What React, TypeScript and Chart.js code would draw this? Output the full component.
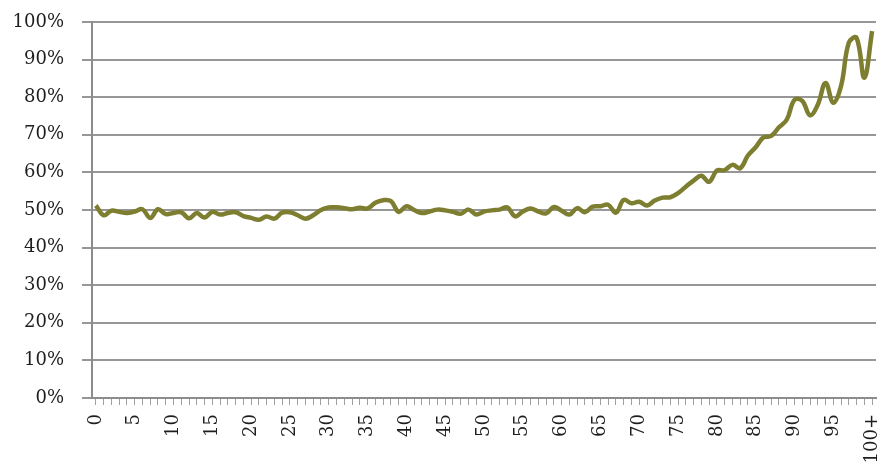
import React, { useEffect, useRef } from "react";
import { Chart, registerables } from "chart.js";

Chart.register(...registerables);

const categories: string[] = [];
for (let a = 0; a < 100; a++) categories.push(String(a));
categories.push("100+");

const shareValues: number[] = [
  51.2, 48.6, 49.8, 49.5, 49.2, 49.6, 50.2, 47.9, 50.2, 48.9,
  49.2, 49.4, 47.8, 49.2, 48.0, 49.5, 48.8, 49.2, 49.4, 48.4,
  47.9, 47.4, 48.3, 47.7, 49.3, 49.4, 48.6, 47.7, 48.6, 50.0,
  50.7, 50.7, 50.5, 50.2, 50.6, 50.4, 51.9, 52.6, 52.4, 49.5,
  51.0, 50.0, 49.2, 49.6, 50.1, 49.9, 49.5, 49.0, 50.1, 48.8,
  49.6, 49.9, 50.1, 50.7, 48.3, 49.6, 50.4, 49.6, 49.1, 50.8,
  49.8, 48.8, 50.5, 49.4, 50.9, 51.0, 51.4, 49.3, 52.7, 51.8,
  52.2, 51.2, 52.5, 53.3, 53.4, 54.5, 56.2, 57.8, 59.1, 57.5,
  60.5, 60.6, 62.0, 61.1, 64.5, 66.7, 69.3, 69.7, 72.0, 74.0,
  79.3, 79.0, 75.2, 78.0, 83.8, 78.5, 83.0, 94.5, 95.8, 85.2,
  97.6,
];

const yTickValues: number[] = [0, 10, 20, 30, 40, 50, 60, 70, 80, 90, 100];

const FONT = "'DejaVu Serif', 'Liberation Serif', serif";

export default function App() {
  const ref = useRef<HTMLCanvasElement | null>(null);

  useEffect(() => {
    if (!ref.current) return;
    const chart = new Chart(ref.current, {
      type: "line",
      data: {
        labels: categories,
        datasets: [
          {
            data: shareValues,
            borderColor: "#7e7e31",
            borderWidth: 4.5,
            pointRadius: 0,
            tension: 0.4,
            fill: false,
          },
        ],
      },
      options: {
        animation: false,
        responsive: false,
        maintainAspectRatio: false,
        layout: { padding: { top: 22, right: 9, left: 0, bottom: 0 } },
        plugins: { legend: { display: false }, tooltip: { enabled: false } },
        scales: {
          x: {
            type: "category",
            offset: true,
            grid: {
              display: true,
              drawOnChartArea: false,
              drawTicks: true,
              tickLength: 7,
              color: "#a0a0a0",
              lineWidth: 1,
            },
            border: { display: true, color: "#8c8c8c", width: 2 },
            ticks: {
              autoSkip: false,
              maxRotation: 90,
              minRotation: 90,
              padding: 9,
              color: "#1e1e1e",
              font: { family: FONT, size: 18 },
              callback: (_v: any, i: number) => (i % 5 === 0 ? categories[i] : ""),
            },
            afterFit: (s: any) => {
              s.height = 67;
              s.paddingLeft = 0;
              s.paddingRight = 0;
            },
          },
          y: {
            min: 0,
            max: 100,
            afterBuildTicks: (s: any) => {
              s.ticks = yTickValues.map((v) => ({ value: v }));
            },
            grid: {
              color: "#979797",
              lineWidth: 2,
              drawTicks: true,
              tickLength: 10,
            },
            border: { display: true, color: "#8c8c8c", width: 2 },
            ticks: {
              padding: 18,
              color: "#1e1e1e",
              font: { family: FONT, size: 18 },
              callback: (v: any) => v + "%",
            },
            afterFit: (s: any) => {
              s.width = 92;
              s.paddingTop = 0;
              s.paddingBottom = 0;
            },
          },
        },
      },
    });
    return () => chart.destroy();
  }, []);

  return (
    <div style={{ position: "fixed", left: 0, top: 0, width: 885, height: 465, background: "#fff" }}>
      <canvas ref={ref} width={885} height={465} style={{ width: 885, height: 465 }} />
    </div>
  );
}
